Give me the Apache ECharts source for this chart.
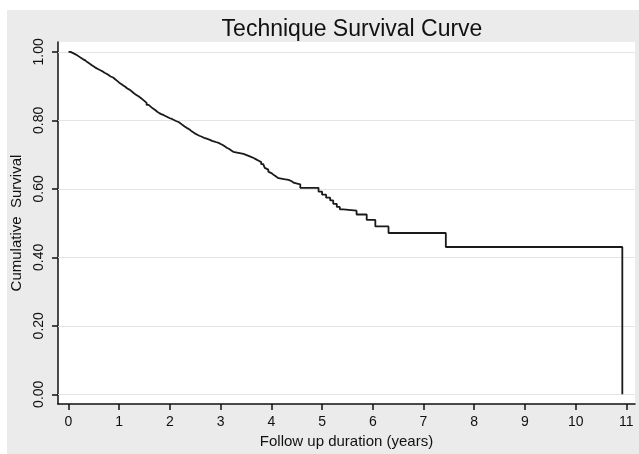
<!DOCTYPE html>
<html lang="en">
<head>
    <meta charset="UTF-8">
    <title>Technique Survival Curve</title>
    <script src="https://cdn.jsdelivr.net/npm/echarts@6/dist/echarts.min.js"></script>
    <style>
        html, body { margin: 0; padding: 0; background: #fff; }
        #main { width: 639px; height: 454px; }
    </style>
</head>
<body>
<div id="main"></div>
<script>
    // follow up time (years) and cumulative survival after each step
    var times = [0, 0.04, 0.08, 0.12, 0.17, 0.21, 0.25, 0.29, 0.33, 0.37, 0.42, 0.46, 0.5,
        0.54, 0.58, 0.63, 0.67, 0.71, 0.75, 0.79, 0.83, 0.88, 0.92, 0.96, 1.0,
        1.04, 1.08, 1.12, 1.16, 1.21, 1.25, 1.29, 1.33, 1.38, 1.42, 1.46, 1.5,
        1.54, 1.58, 1.62, 1.66, 1.71, 1.75, 1.79, 1.83, 1.88, 1.92, 1.96, 2.0,
        2.04, 2.08, 2.12, 2.17, 2.21, 2.25, 2.29, 2.33, 2.38, 2.42, 2.46, 2.5,
        2.54, 2.58, 2.63, 2.67, 2.71, 2.75, 2.79, 2.83, 2.88, 2.92, 2.96, 3.0,
        3.04, 3.08, 3.12, 3.17, 3.21, 3.25, 3.35, 3.45, 3.5, 3.55, 3.6, 3.65,
        3.7, 3.75, 3.8, 3.84, 3.87, 3.9, 3.94, 3.97, 4.01, 4.05, 4.1, 4.14,
        4.25, 4.34, 4.4, 4.45, 4.57, 4.93, 5.0, 5.08, 5.16, 5.22, 5.29, 5.35,
        5.42, 5.68, 5.88, 6.05, 6.31, 7.44, 10.92];
    var surv = [1.0, 0.997, 0.994, 0.990, 0.986, 0.982, 0.978, 0.975, 0.970, 0.965, 0.961, 0.957, 0.953,
        0.950, 0.946, 0.943, 0.939, 0.936, 0.932, 0.928, 0.925, 0.920, 0.915, 0.910, 0.906,
        0.902, 0.898, 0.893, 0.889, 0.884, 0.879, 0.875, 0.870, 0.866, 0.861, 0.856, 0.851,
        0.845, 0.840, 0.835, 0.830, 0.825, 0.821, 0.818, 0.815, 0.812, 0.809, 0.806, 0.804,
        0.801, 0.798, 0.795, 0.791, 0.786, 0.782, 0.778, 0.774, 0.769, 0.765, 0.761, 0.758,
        0.755, 0.752, 0.749, 0.747, 0.745, 0.743, 0.740, 0.738, 0.736, 0.734, 0.731, 0.728,
        0.724, 0.720, 0.716, 0.712, 0.708, 0.705, 0.702, 0.699, 0.696, 0.693, 0.690, 0.686,
        0.682, 0.678, 0.672, 0.667, 0.661, 0.656, 0.650, 0.645, 0.640, 0.635, 0.631, 0.628,
        0.626, 0.622, 0.617, 0.613, 0.603, 0.592, 0.583, 0.574, 0.566, 0.556, 0.547, 0.540,
        0.536, 0.525, 0.509, 0.490, 0.471, 0.430, 0.0];
    var xTicks = [0, 1, 2, 3, 4, 5, 6, 7, 8, 9, 10, 11];
    var yTicks = [0, 0.2, 0.4, 0.6, 0.8, 1.0];

    var pts = times.map(function (t, i) { return [t, surv[i]]; });
    var font = '"Liberation Sans", Arial, sans-serif';

    var myChart = echarts.init(document.getElementById('main'));
    var option = {
        backgroundColor: '#ffffff',
        animation: false,
        graphic: [{
            type: 'rect',
            z: -10,
            shape: { x: 7, y: 10, width: 632, height: 444 },
            style: { fill: '#ebebeb' }
        }],
        title: {
            text: 'Technique Survival Curve',
            left: 347,
            top: 13,
            textAlign: 'center',
            textStyle: { fontFamily: font, fontSize: 23, fontWeight: 'normal', color: '#111' }
        },
        grid: {
            left: 58, top: 42, right: 4, bottom: 43,
            show: true, backgroundColor: '#ffffff', borderWidth: 0
        },
        xAxis: {
            type: 'value',
            min: -0.207, max: 11.17,
            name: 'Follow up duration (years)',
            nameLocation: 'middle',
            nameGap: 24,
            nameTextStyle: { fontFamily: font, fontSize: 15, color: '#111' },
            axisLine: { show: true, onZero: false, lineStyle: { color: '#111', width: 1.5 } },
            axisTick: { show: true, customValues: xTicks, length: 6, lineStyle: { color: '#111', width: 1.5 } },
            axisLabel: { customValues: xTicks, margin: 11, fontFamily: font, fontSize: 14, color: '#111' },
            splitLine: { show: false }
        },
        yAxis: {
            type: 'value',
            min: -0.0287, max: 1.0287,
            name: 'Cumulative  Survival',
            nameLocation: 'middle',
            nameGap: 32,
            nameTextStyle: { fontFamily: font, fontSize: 15, color: '#111' },
            axisLine: { show: true, onZero: false, lineStyle: { color: '#111', width: 1.5 } },
            axisTick: { show: true, customValues: yTicks, length: 6, lineStyle: { color: '#111', width: 1.5 } },
            axisLabel: {
                customValues: yTicks, rotate: 90, margin: 12,
                fontFamily: font, fontSize: 14, color: '#111',
                formatter: function (v) { return v.toFixed(2); }
            },
            splitLine: { show: false }
        },
        series: [{
            type: 'line',
            step: 'end',
            data: pts,
            showSymbol: false,
            lineStyle: { color: '#1a1a1a', width: 1.8 },
            markLine: {
                silent: true,
                symbol: ['none', 'none'],
                label: { show: false },
                lineStyle: { color: '#e4e4e4', width: 1.2, type: 'solid' },
                z: 1,
                data: yTicks.map(function (v) { return { yAxis: v }; })
            }
        }]
    };
    myChart.setOption(option);
</script>
</body>
</html>
